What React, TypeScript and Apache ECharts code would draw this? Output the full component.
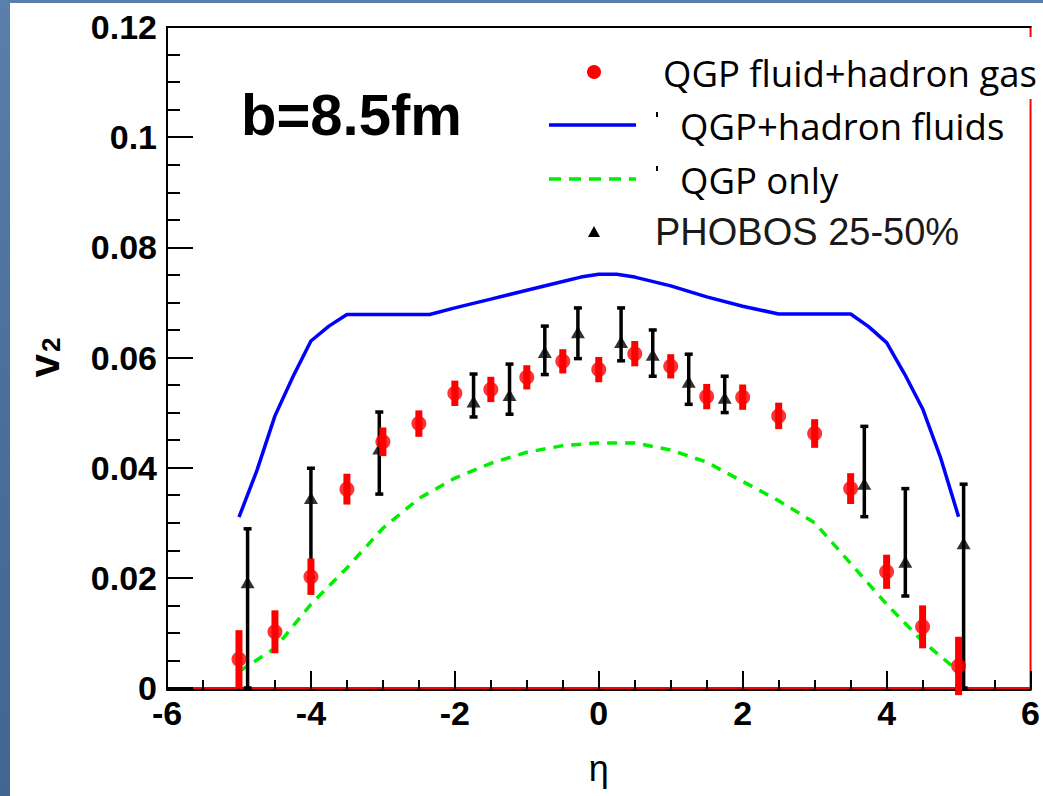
import React, { useEffect, useRef } from "react";
import * as echarts from "echarts";

// ---- data ----
// QGP fluid + hadron gas (red points with error bars)
const etaGas = [-5, -4.5, -4, -3.5, -3, -2.5, -2, -1.5, -1, -0.5, 0, 0.5, 1, 1.5, 2, 2.5, 3, 3.5, 4, 4.5, 5];
const v2Gas = [0.0052, 0.0102, 0.0202, 0.0361, 0.0447, 0.048, 0.0535, 0.0542, 0.0564, 0.0593, 0.0578, 0.0607, 0.0584, 0.0529, 0.0528, 0.0494, 0.0462, 0.0362, 0.0211, 0.0111, 0.004];
const v2GasErr = [0.0053, 0.0039, 0.0033, 0.0028, 0.0026, 0.0024, 0.0023, 0.0023, 0.0022, 0.0022, 0.0023, 0.0023, 0.0022, 0.0023, 0.0023, 0.0024, 0.0026, 0.0028, 0.0031, 0.0039, 0.0053];

// QGP + hadron fluids (blue solid line)
const etaFluids = [-5, -4.75, -4.5, -4.25, -4, -3.75, -3.5, -2.35, -2, -1.5, -1, -0.5, -0.25, 0, 0.25, 0.5, 1, 1.5, 2, 2.5, 3.5, 3.75, 4, 4.25, 4.5, 4.75, 5];
const v2Fluids = [0.031, 0.0395, 0.0494, 0.0565, 0.063, 0.0657, 0.0678, 0.0678, 0.069, 0.0706, 0.0722, 0.0738, 0.0746, 0.0751, 0.0751, 0.0746, 0.073, 0.071, 0.0693, 0.0679, 0.0679, 0.0656, 0.0627, 0.057, 0.0507, 0.0418, 0.0311];

// QGP only (green dashed line)
const etaQgp = [-5, -4.5, -4, -3.5, -3, -2.5, -2, -1.5, -1, -0.5, 0, 0.5, 1, 1.5, 2, 2.5, 3, 3.5, 4, 4.5, 5];
const v2Qgp = [0.003, 0.0072, 0.0152, 0.0218, 0.029, 0.0344, 0.0381, 0.0408, 0.0428, 0.044, 0.0445, 0.0445, 0.0432, 0.041, 0.0375, 0.034, 0.03, 0.0226, 0.0152, 0.0085, 0.003];

// PHOBOS 25-50% (black triangles with asymmetric error bars)
const etaPhobos = [-4.88, -4.0, -3.05, -1.74, -1.24, -0.75, -0.29, 0.31, 0.75, 1.25, 1.75, 3.69, 4.26, 5.07];
const v2Phobos = [0.0192, 0.0345, 0.0435, 0.052, 0.0532, 0.061, 0.0646, 0.0628, 0.0605, 0.0556, 0.0527, 0.0371, 0.0229, 0.0263];
const v2PhobosHi = [0.0289, 0.0399, 0.0501, 0.057, 0.0588, 0.0657, 0.069, 0.069, 0.065, 0.0606, 0.0566, 0.0475, 0.0362, 0.037];
const v2PhobosLo = [0.0, 0.02, 0.0352, 0.0492, 0.0497, 0.0569, 0.0598, 0.0594, 0.0566, 0.0515, 0.05, 0.0311, 0.0167, 0.0];

// axis ranges / ticks
const xMin = -6, xMax = 6, xStep = 2;
const yMin = 0, yMax = 0.12, yStep = 0.02;

// legend labels
const legendGas = "QGP fluid+hadron gas";
const legendFluids = "QGP+hadron fluids";
const legendQgp = "QGP only";
const legendPhobos = "PHOBOS 25-50%";
const impactLabel = "b=8.5fm";

const RED = "#ff0000";
const BLUE = "#0000ff";
const GREEN = "#00ee00";

export default function App() {
  const ref = useRef<HTMLDivElement>(null);
  useEffect(() => {
    const chart = echarts.init(ref.current!, null, { renderer: "svg" });

    const gasErrData = etaGas.map((e, i) => [e, v2Gas[i] - v2GasErr[i], v2Gas[i] + v2GasErr[i]]);
    const phobosErrData = etaPhobos.map((e, i) => [e, v2PhobosLo[i], v2PhobosHi[i]]);

    const option: any = {
      animation: false,
      backgroundColor: "transparent",
      grid: {
        left: 167,
        right: 8,
        top: 27,
        bottom: 108,
        show: true,
        borderColor: RED,
        borderWidth: 2,
        backgroundColor: "transparent",
      },
      xAxis: [
        {
          type: "value",
          position: "bottom",
          min: xMin,
          max: xMax,
          interval: xStep,
          offset: 2,
          axisLine: { show: true, onZero: false, lineStyle: { color: "#000", width: 2 } },
          axisTick: { show: true, inside: true, length: 19, lineStyle: { color: "#000", width: 2 } },
          minorTick: { show: true, splitNumber: 4, length: 10, lineStyle: { color: "#000", width: 2 } },
          splitLine: { show: false },
          axisLabel: {
            color: "#000",
            fontFamily: "Liberation Sans",
            fontWeight: "bold",
            fontSize: 34,
            margin: 6,
          },
          name: "η",
          nameLocation: "middle",
          nameGap: 60,
          nameTextStyle: { color: "#000", fontFamily: "Liberation Sans", fontSize: 36 },
        },
        {
          type: "value",
          position: "top",
          min: xMin,
          max: xMax,
          interval: xStep,
          axisLine: { show: true, onZero: false, lineStyle: { color: "#000", width: 2 } },
          axisTick: { show: false },
          axisLabel: { show: false },
          splitLine: { show: false },
        },
      ],
      yAxis: {
        type: "value",
        min: yMin,
        max: yMax,
        interval: yStep,
        axisLine: { show: true, onZero: false, lineStyle: { color: "#000", width: 2 } },
        axisTick: { show: true, inside: true, length: 26, lineStyle: { color: "#000", width: 2 } },
        minorTick: { show: true, splitNumber: 4, length: 13, lineStyle: { color: "#000", width: 2 } },
        splitLine: { show: false },
        axisLabel: {
          color: "#000",
          fontFamily: "Liberation Sans",
          fontWeight: "bold",
          fontSize: 34,
          margin: 10,
        },
        name: "{v|v}{s|2}",
        nameLocation: "middle",
        nameRotate: 90,
        nameGap: 100,
        nameTextStyle: {
          rich: {
            v: { fontFamily: "Liberation Sans", fontWeight: "bold", fontSize: 42, color: "#000", lineHeight: 46 },
            s: { fontFamily: "Liberation Sans", fontWeight: "bold", fontSize: 26, color: "#000", lineHeight: 46, padding: [14, 0, 0, 2] },
          },
        },
      },
      series: [
        {
          name: legendFluids,
          type: "line",
          data: etaFluids.map((e, i) => [e, v2Fluids[i]]),
          showSymbol: false,
          symbol: "none",
          lineStyle: { color: BLUE, width: 3.5 },
          z: 3,
        },
        {
          name: legendQgp,
          type: "line",
          data: etaQgp.map((e, i) => [e, v2Qgp[i]]),
          showSymbol: false,
          symbol: "none",
          smooth: false,
          lineStyle: { color: GREEN, width: 3.5, type: [10, 8] },
          z: 3,
        },
        {
          name: legendPhobos + " err",
          type: "custom",
          data: phobosErrData,
          encode: { x: 0, y: [1, 2] },
          z: 4,
          renderItem: (params: any, api: any) => {
            const x = api.value(0);
            const lo = api.coord([x, api.value(1)]);
            const hi = api.coord([x, api.value(2)]);
            const st = { stroke: "#000", lineWidth: 3.5 };
            return {
              type: "group",
              children: [
                { type: "line", shape: { x1: lo[0], y1: lo[1], x2: hi[0], y2: hi[1] }, style: st },
                { type: "line", shape: { x1: hi[0] - 4, y1: hi[1], x2: hi[0] + 4, y2: hi[1] }, style: st },
                { type: "line", shape: { x1: lo[0] - 4, y1: lo[1], x2: lo[0] + 4, y2: lo[1] }, style: st },
              ],
            };
          },
        },
        {
          name: legendPhobos,
          type: "scatter",
          data: etaPhobos.map((e, i) => [e, v2Phobos[i]]),
          symbol: "triangle",
          symbolSize: [14, 12],
          itemStyle: { color: "#000" },
          z: 5,
        },
        {
          name: legendGas + " err",
          type: "custom",
          data: gasErrData,
          encode: { x: 0, y: [1, 2] },
          z: 6,
          renderItem: (params: any, api: any) => {
            const x = api.value(0);
            const lo = api.coord([x, api.value(1)]);
            const hi = api.coord([x, api.value(2)]);
            return {
              type: "rect",
              shape: { x: lo[0] - 3.5, y: hi[1], width: 7, height: lo[1] - hi[1] },
              style: { fill: RED },
            };
          },
        },
        {
          name: legendGas,
          type: "scatter",
          data: etaGas.map((e, i) => [e, v2Gas[i]]),
          symbol: "circle",
          symbolSize: 15,
          itemStyle: { color: RED },
          z: 7,
        },
      ],
      graphic: [
        { type: "rect", z: -100, shape: { x: 10, y: 3, width: 1040, height: 800 }, style: { fill: "#ffffff" } },
        // legend background box (covers frame)
        { type: "rect", z: 20, shape: { x: 655, y: 37, width: 390, height: 62 }, style: { fill: "#ffffff" } },
        { type: "circle", z: 21, shape: { cx: 594, cy: 72, r: 7 }, style: { fill: RED } },
        { type: "text", z: 21, x: 663, y: 73, style: { text: legendGas, font: "36.5px 'Open Sans'", fill: "#000", verticalAlign: "middle" } },
        { type: "line", z: 21, shape: { x1: 549, y1: 125, x2: 636, y2: 125 }, style: { stroke: BLUE, lineWidth: 3.5 } },
        { type: "rect", z: 21, shape: { x: 656, y: 112, width: 2, height: 5 }, style: { fill: "#000" } },
        { type: "text", z: 21, x: 680, y: 126, style: { text: legendFluids, font: "36.5px 'Open Sans'", fill: "#000", verticalAlign: "middle" } },
        { type: "line", z: 21, shape: { x1: 549, y1: 179, x2: 636, y2: 179 }, style: { stroke: GREEN, lineWidth: 3.5, lineDash: [12, 8] } },
        { type: "rect", z: 21, shape: { x: 656, y: 166, width: 2, height: 5 }, style: { fill: "#000" } },
        { type: "text", z: 21, x: 680, y: 180, style: { text: legendQgp, font: "36.5px 'Open Sans'", fill: "#000", verticalAlign: "middle" } },
        { type: "polygon", z: 21, shape: { points: [[588, 237], [600, 237], [594, 226]] }, style: { fill: "#000" } },
        { type: "text", z: 21, x: 655, y: 232, style: { text: legendPhobos, font: "38px 'Liberation Sans'", fill: "#1a1a1a", verticalAlign: "middle" } },
        { type: "text", z: 21, x: 241, y: 114, style: { text: impactLabel, font: "bold 58px 'Liberation Sans'", fill: "#000", verticalAlign: "middle" } },
      ],
    };

    chart.setOption(option);
    return () => chart.dispose();
  }, []);
  return (
    <div
      ref={ref}
      style={{
        position: "absolute",
        left: 0,
        top: 0,
        width: 1043,
        height: 796,
        background: "linear-gradient(180deg, #5a7fab 0%, #4b6e9b 50%, #436591 100%)",
      }}
    />
  );
}
